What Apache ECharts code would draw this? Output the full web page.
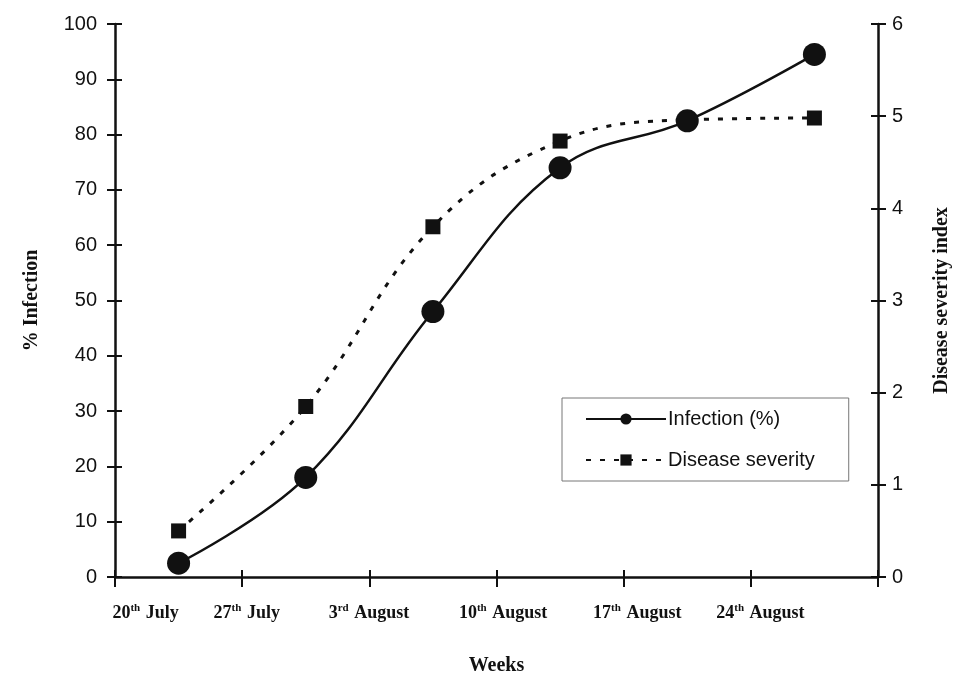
<!DOCTYPE html>
<html>
<head>
<meta charset="utf-8">
<script src="https://cdn.jsdelivr.net/npm/echarts@6/dist/echarts.min.js"></script>
<style>html,body{margin:0;padding:0;background:#fff;}#c{width:956px;height:679px;}</style>
</head>
<body>
<div id="c"></div>
<script>
// ---- data ----
const weekNums = ['20', '27', '3', '10', '17', '24'];
const weekSups = ['th', 'th', 'rd', 'th', 'th', 'th'];
const weekMonths = ['July', 'July', 'August', 'August', 'August', 'August'];
const categories = ['20th July', '27th July', '3rd August', '10th August', '17th August', '24th August'];
const infection = [2.5, 18, 48, 74, 82.5, 94.5];
const severity = [0.5, 1.85, 3.8, 4.73, 4.96, 4.98];
const leftTicks = [0, 100, 10];
const rightTicks = [0, 6, 1];

// label shift (style only)
const labelGap = [66, 118, 128, 114, 100, 108];

const chart = echarts.init(document.getElementById('c'), null, {renderer: 'canvas'});
const rich = {
  n: {fontFamily: 'Liberation Serif', fontWeight: 'bold', fontSize: 18, color: '#111', lineHeight: 20},
  s: {fontFamily: 'Liberation Serif', fontWeight: 'bold', fontSize: 11, color: '#111', verticalAlign: 'top', lineHeight: 11, padding:[0,1,0,0]}
};
labelGap.forEach((g, i) => { rich['g' + i] = {width: g, lineHeight: 20}; });

const axisLine = {show: true, lineStyle: {color: '#111', width: 2.5}};
const tickOut = {show: true, length: 8, lineStyle: {color: '#111', width: 2}};
const tickIn = {show: true, inside: true, length: 7, lineStyle: {color: '#111', width: 2}};
const numLabel = {fontFamily: 'Liberation Sans', fontSize: 20, color: '#111'};
const nameStyle = {fontFamily: 'Liberation Serif', fontWeight: 'bold', fontSize: 20, color: '#111'};

chart.setOption({
  backgroundColor: '#fff',
  animation: false,
  grid: {left: 115, right: 78, top: 24, bottom: 102, outerBoundsMode: 'none', containLabel: false},
  legend: {
    left: 562, top: 398, orient: 'vertical',
    padding: [11, 34, 11, 23], itemGap: 21,
    itemWidth: 80, itemHeight: 14,
    backgroundColor: '#fff', borderColor: '#777', borderWidth: 1,
    textStyle: {fontFamily: 'Liberation Sans', fontSize: 20, color: '#111', padding: [0, 0, 0, -3]},
    data: ['Infection (%)', 'Disease severity']
  },
  xAxis: [{
    type: 'category', data: categories, boundaryGap: true,
    axisLine: axisLine,
    axisTick: {show: true, interval: 0, length: 10, lineStyle: {color: '#111', width: 2}},
    axisLabel: {
      margin: 26, interval: 0, hideOverlap: false,
      formatter: (v, i) => '{n|' + weekNums[i] + '}{s|' + weekSups[i] + '}{n| ' + weekMonths[i] + '}{g' + i + '|}',
      rich: rich
    },
    name: 'Weeks', nameLocation: 'middle', nameGap: 79, nameTextStyle: nameStyle
  }, {
    type: 'category', data: categories, boundaryGap: true, position: 'bottom',
    axisLine: {show: false}, axisTick: {show: true, interval: 0, inside: true, length: 7, lineStyle: {color: '#111', width: 2}},
    axisLabel: {show: false}
  }],
  yAxis: [{
    type: 'value', position: 'left', min: leftTicks[0], max: leftTicks[1], interval: leftTicks[2],
    axisLine: axisLine, axisTick: tickOut, splitLine: {show: false},
    axisLabel: Object.assign({margin: 18}, numLabel),
    name: '% Infection', nameLocation: 'middle', nameGap: 73, nameRotate: 90, nameTextStyle: nameStyle
  }, {
    type: 'value', position: 'right', min: rightTicks[0], max: rightTicks[1], interval: rightTicks[2],
    axisLine: axisLine, axisTick: tickOut, splitLine: {show: false},
    axisLabel: Object.assign({margin: 14}, numLabel),
    name: 'Disease severity index', nameLocation: 'middle', nameGap: 54, nameRotate: 90, nameTextStyle: nameStyle
  }, {
    type: 'value', position: 'left', min: leftTicks[0], max: leftTicks[1], interval: leftTicks[2],
    axisLine: {show: false}, axisTick: tickIn, axisLabel: {show: false}, splitLine: {show: false}
  }, {
    type: 'value', position: 'right', min: rightTicks[0], max: rightTicks[1], interval: rightTicks[2],
    axisLine: {show: false}, axisTick: tickIn, axisLabel: {show: false}, splitLine: {show: false}
  }],
  series: [{
    name: 'Infection (%)', type: 'line', data: infection, yAxisIndex: 0,
    smooth: 0.4, symbol: 'circle', symbolSize: 23,
    lineStyle: {color: '#111', width: 2.5}, itemStyle: {color: '#111'}, z: 3
  }, {
    name: 'Disease severity', type: 'line', data: severity, yAxisIndex: 1,
    smooth: 0.4, symbol: 'rect', symbolSize: 15,
    lineStyle: {color: '#111', width: 3, type: [5, 9]}, itemStyle: {color: '#111'}, z: 4
  }]
});
</script>
</body>
</html>
